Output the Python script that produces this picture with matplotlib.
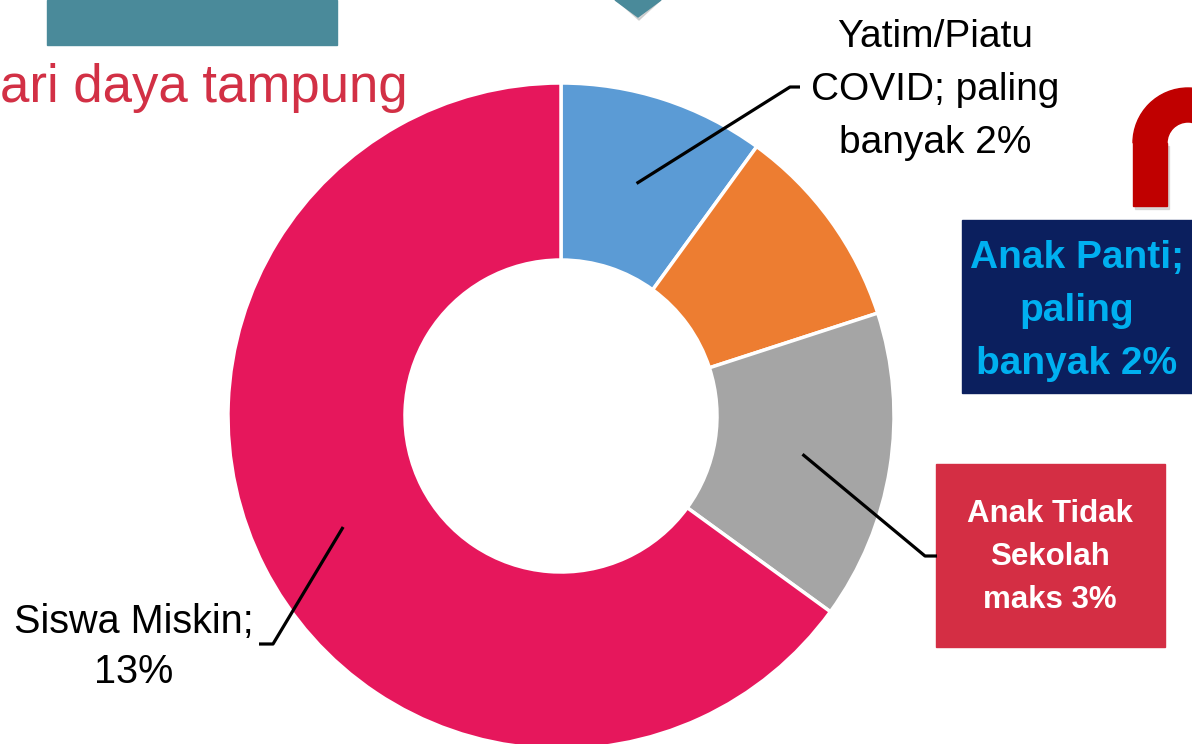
import numpy as np
import matplotlib
matplotlib.use("Agg")
import matplotlib.pyplot as plt
from matplotlib.patches import Rectangle, Polygon, Wedge

# data
labels = ["Yatim/Piatu COVID", "Anak Panti", "Anak Tidak Sekolah", "Siswa Miskin"]
values = [2, 2, 3, 13]
colors = ["#5B9BD5", "#ED7D31", "#A5A5A5", "#E6175C"]
label_texts = ["Yatim/Piatu\nCOVID; paling\nbanyak 2%",
               "Anak Panti;\npaling\nbanyak 2%",
               "Anak Tidak\nSekolah\nmaks 3%",
               "Siswa Miskin;\n13%"]
title_text = "ari daya tampung"

W, H = 1192, 744
def Y(y):  # pixel row from top -> data y
    return H - y

fig = plt.figure(figsize=(W / 100, H / 100), dpi=100)
ax = fig.add_axes([0, 0, 1, 1])

cx, cy, R, ring = 561, Y(416), 333, 177
wedges, _ = ax.pie(values, colors=colors, startangle=90, counterclock=False,
                   center=(cx, cy), radius=R,
                   wedgeprops=dict(width=ring, edgecolor="white", linewidth=2.5))
ax.set_xlim(0, W)
ax.set_ylim(0, H)
ax.set_aspect("equal")
ax.axis("off")

# decorations: teal bar, teal pointer, red arch
ax.add_patch(Rectangle((47, Y(45)), 290, 45, color="#4A8A9A", zorder=3))
ax.add_patch(Polygon([(613, Y(-3)), (664, Y(-3)), (639, Y(20))], color="#bbbbbb", alpha=0.6, zorder=2))
ax.add_patch(Polygon([(615, Y(0)), (661, Y(0)), (638, Y(17))], color="#4A8A9A", zorder=3))
ax.add_patch(Rectangle((1135, Y(209)), 34, 63, color="#cccccc", alpha=0.7, zorder=2))
ax.add_patch(Wedge((1188, Y(143)), 55, 0, 180, width=34, color="#C00000", zorder=3))
ax.add_patch(Rectangle((1133, Y(206)), 34, 63, color="#C00000", zorder=3))

ax.text(0, Y(88), title_text, color="#D23045", fontsize=38, family="Liberation Sans",
        ha="left", va="center", zorder=4)

# label boxes
ax.add_patch(Rectangle((962, Y(393)), 230, 173, color="#0B1F5E", zorder=3))
ax.text(1077, Y(311), label_texts[1], color="#00B0F0", fontsize=28, fontweight="bold",
        family="Liberation Sans", ha="center", va="center",
        linespacing=1.6, zorder=4)
ax.add_patch(Rectangle((936, Y(647)), 229, 183, color="#D42E44", zorder=3))
ax.text(1050, Y(557), label_texts[2], color="white", fontsize=22.5, fontweight="bold",
        family="Liberation Sans", ha="center", va="center",
        linespacing=1.56, zorder=4)

# leader lines from ring midpoints
def ring_mid(w):
    a = np.deg2rad((w.theta1 + w.theta2) / 2)
    r = R - ring / 2
    return cx + r * np.cos(a), cy + r * np.sin(a)

leaders = {0: [(790, Y(87)), (800, Y(87))],
           2: [(925, Y(556)), (937, Y(556))],
           3: [(273, Y(644)), (259, Y(644))]}
for i, pts in leaders.items():
    x0, y0 = ring_mid(wedges[i])
    xs = [x0] + [p[0] for p in pts]
    ys = [y0] + [p[1] for p in pts]
    ax.plot(xs, ys, color="black", lw=2.3, zorder=5, solid_capstyle="butt")

ax.text(935, Y(90), label_texts[0], fontsize=28, family="Liberation Sans",
        ha="center", va="center", linespacing=1.6, zorder=4)
ax.text(134, Y(647), label_texts[3], fontsize=28.5, family="Liberation Sans",
        ha="center", va="center", linespacing=1.42, zorder=4)

fig.savefig("out.png", dpi=100)
